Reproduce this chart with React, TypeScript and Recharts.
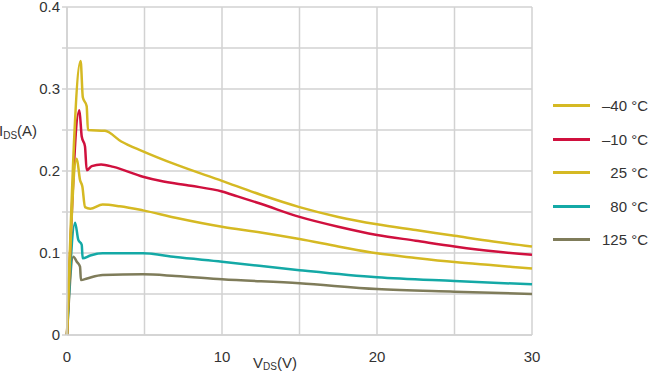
import { LineChart, Line, XAxis, YAxis, CartesianGrid } from 'recharts';

// [V_DS, I_DS] points
const m40: [number, number][] = [
  [0, 0], [0.88, 0.334], [1.02, 0.29], [1.27, 0.279], [1.35, 0.25], [2.45, 0.249],
  [3.5, 0.236], [4.9, 0.224], [7, 0.208], [10, 0.188], [12.5, 0.171], [15, 0.156],
  [17.5, 0.144], [20, 0.135], [22.5, 0.128], [25, 0.121], [27.5, 0.114], [30, 0.108]
];
const m10: [number, number][] = [
  [0, 0], [0.8, 0.274], [0.95, 0.242], [1.16, 0.23], [1.27, 0.201], [1.6, 0.206],
  [2.2, 0.208], [3, 0.205], [4.9, 0.193], [6, 0.188], [8, 0.182], [10, 0.175],
  [11, 0.169], [12.5, 0.16], [15, 0.144], [17.5, 0.132], [20, 0.122], [22.5, 0.115],
  [25, 0.108], [27.5, 0.102], [30, 0.098]
];
const p25: [number, number][] = [
  [0, 0], [0.63, 0.215], [0.84, 0.189], [0.99, 0.181], [1.16, 0.156], [1.5, 0.154],
  [2.3, 0.159], [3.4, 0.157], [4.9, 0.152], [7, 0.143], [10, 0.132], [12.5, 0.125],
  [15, 0.117], [17.5, 0.108], [20, 0.0996], [22.5, 0.094], [25, 0.089], [27.5, 0.085],
  [30, 0.081]
];
const p80: [number, number][] = [
  [0, 0], [0.52, 0.137], [0.73, 0.116], [0.95, 0.11], [1.01, 0.0935], [1.5, 0.097],
  [2.3, 0.0996], [4.9, 0.0996], [7, 0.095], [10, 0.0894], [15, 0.079], [20, 0.0703],
  [25, 0.0658], [30, 0.0618]
];
const p125: [number, number][] = [
  [0, 0], [0.41, 0.0955], [0.63, 0.0894], [0.84, 0.0833], [0.9, 0.067], [1.3, 0.069],
  [2.3, 0.0732], [4.9, 0.074], [7, 0.072], [10, 0.068], [15, 0.063], [20, 0.056],
  [25, 0.0528], [30, 0.05]
];

const xTicks = [0, 5, 10, 15, 20, 25, 30];
const yTicks = [0, 0.05, 0.1, 0.15, 0.2, 0.25, 0.3, 0.35, 0.4];

const series = [
  { name: '\u201340 \u00b0C', color: '#d5b923', pts: m40 },
  { name: '\u201310 \u00b0C', color: '#d0103e', pts: m10 },
  { name: '25 \u00b0C', color: '#d5b923', pts: p25 },
  { name: '80 \u00b0C', color: '#14a9a6', pts: p80 },
  { name: '125 \u00b0C', color: '#7f7c5a', pts: p125 }
];

// draw order: bottom curves first, -40 on top
const drawOrder = [4, 3, 1, 2, 0];

const font = '"Liberation Sans", Arial, sans-serif';
const gridColor = '#d2d2d2';

const toRows = (pts: [number, number][]) => pts.map(([v, i]) => ({ v, i }));

function LegendBox() {
  return (
    <div
      style={{
        position: 'absolute',
        left: 553,
        top: 89,
        width: 97,
        fontFamily: font,
        fontSize: 15,
        color: '#333'
      }}
    >
      {series.map((s) => (
        <div key={s.name} style={{ display: 'flex', alignItems: 'center', height: 33.5 }}>
          <div style={{ width: 37, height: 3, background: s.color }} />
          <div style={{ width: 58, textAlign: 'right' }}>{s.name}</div>
        </div>
      ))}
    </div>
  );
}

export default function App() {
  return (
    <div style={{ position: 'absolute', left: 0, top: 0, width: 650, height: 374, background: '#fff' }}>
      <LineChart
        width={650}
        height={374}
        margin={{ top: 7, right: 118, bottom: 0, left: 0 }}
      >
        <CartesianGrid stroke={gridColor} strokeWidth={1.5} />
        <XAxis
          dataKey="v"
          type="number"
          domain={[0, 30]}
          ticks={xTicks}
          tickFormatter={(t: number) => (t % 10 === 0 ? String(t) : '')}
          axisLine={{ stroke: gridColor, strokeWidth: 1.5 }}
          tickLine={false}
          tick={{ fill: '#333', fontSize: 15, fontFamily: font }}
          tickMargin={10}
          height={39}
          label={{
            content: () => (
              <text x={253} y={368} fill="#333" fontSize={15} fontFamily={font}>
                V<tspan fontSize={10} dy={2}>DS</tspan>
                <tspan dy={-2}>(V)</tspan>
              </text>
            )
          }}
        />
        <YAxis
          type="number"
          domain={[0, 0.4]}
          ticks={yTicks}
          interval={0}
          tickFormatter={(t: number) => (Math.round(t * 100) % 10 === 0 ? String(+t.toFixed(1)) : '')}
          axisLine={{ stroke: gridColor, strokeWidth: 1.5 }}
          tickLine={{ stroke: gridColor, strokeWidth: 1.5 }}
          tickSize={5}
          tick={{ fill: '#333', fontSize: 15, fontFamily: font }}
          width={67}
          label={{
            content: () => (
              <text x={-1} y={136} fill="#333" fontSize={15} fontFamily={font}>
                I<tspan fontSize={10} dy={3}>DS</tspan>
                <tspan dy={-3}>(A)</tspan>
              </text>
            )
          }}
        />
        {drawOrder.map((k) => (
          <Line
            key={series[k].name}
            data={toRows(series[k].pts)}
            dataKey="i"
            name={series[k].name}
            type="monotone"
            stroke={series[k].color}
            strokeWidth={2.5}
            dot={false}
            activeDot={false}
            isAnimationActive={false}
          />
        ))}
      </LineChart>
      <LegendBox />
    </div>
  );
}
